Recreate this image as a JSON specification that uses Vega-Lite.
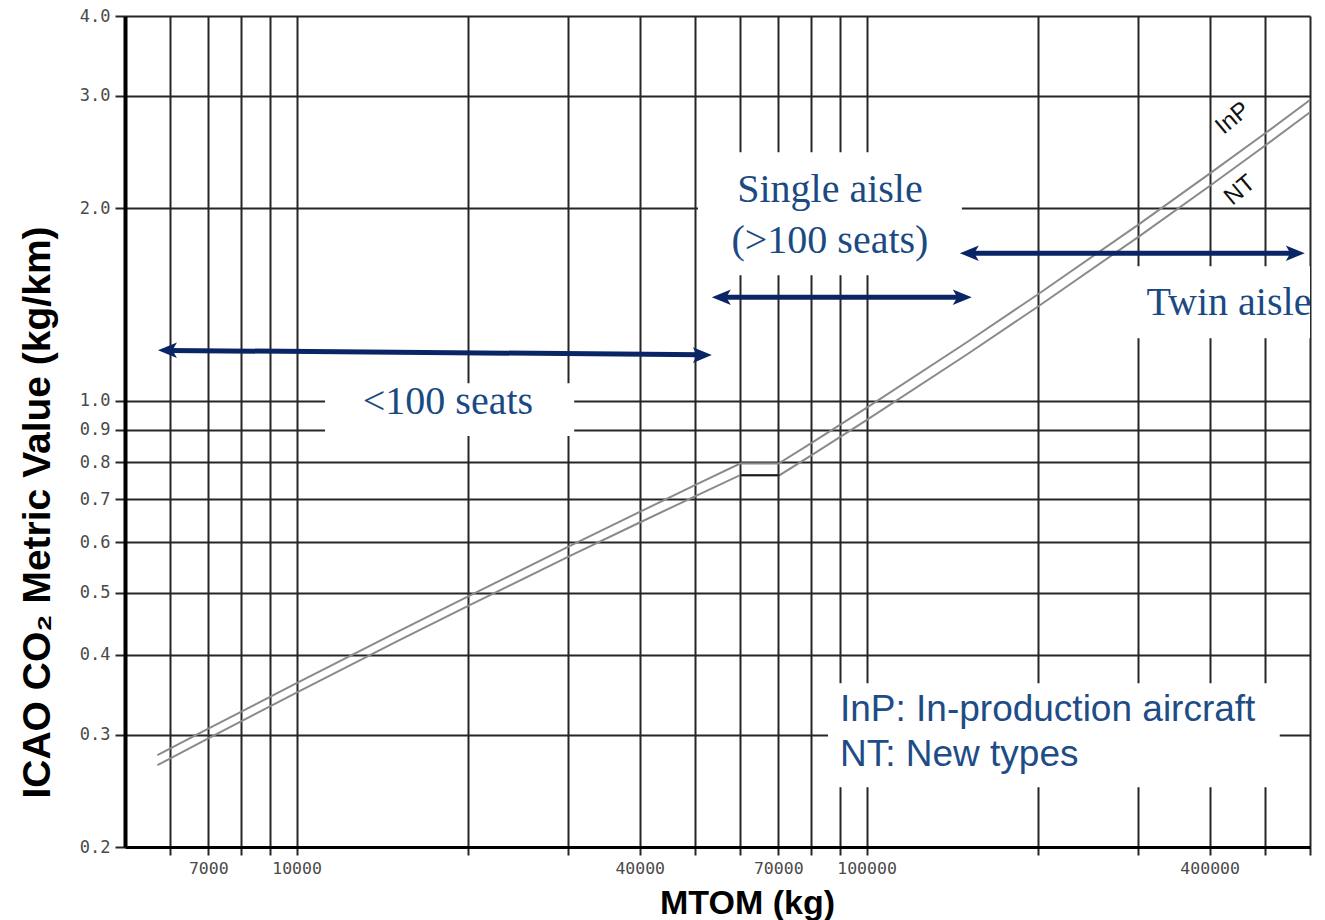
{
  "$schema": "https://vega.github.io/schema/vega-lite/v6.json",
  "width": 1185,
  "height": 831,
  "autosize": {"type": "none"},
  "padding": {"left": 125, "top": 16, "right": 15, "bottom": 73},
  "background": "white",
  "config": {"view": {"stroke": null}},
  "datasets": {
    "boxes": [
      {"x": 11217, "x2": 30700, "y": 1.064, "y2": 0.880},
      {"x": 50610, "x2": 147000, "y": 2.448, "y2": 1.571},
      {"x": 289800, "x2": 600000, "y": 1.623, "y2": 1.252},
      {"x": 85600, "x2": 531000, "y": 0.361, "y2": 0.248}
    ],
    "lines": [
      {"series": "InP", "x": 5700, "y": 0.2786},
      {"series": "InP", "x": 7000, "y": 0.3065},
      {"series": "InP", "x": 10000, "y": 0.3610},
      {"series": "InP", "x": 15000, "y": 0.4339},
      {"series": "InP", "x": 20000, "y": 0.4937},
      {"series": "InP", "x": 30000, "y": 0.5904},
      {"series": "InP", "x": 40000, "y": 0.6693},
      {"series": "InP", "x": 50000, "y": 0.7371},
      {"series": "InP", "x": 60000, "y": 0.7970},
      {"series": "InP", "x": 70107, "y": 0.7970},
      {"series": "InP", "x": 80000, "y": 0.8580},
      {"series": "InP", "x": 100000, "y": 0.9738},
      {"series": "InP", "x": 150000, "y": 1.2339},
      {"series": "InP", "x": 200000, "y": 1.4670},
      {"series": "InP", "x": 300000, "y": 1.8860},
      {"series": "InP", "x": 400000, "y": 2.2656},
      {"series": "InP", "x": 500000, "y": 2.6194},
      {"series": "InP", "x": 600000, "y": 2.9548},
      {"series": "NT", "x": 5700, "y": 0.2686},
      {"series": "NT", "x": 7000, "y": 0.2959},
      {"series": "NT", "x": 10000, "y": 0.3489},
      {"series": "NT", "x": 15000, "y": 0.4196},
      {"series": "NT", "x": 20000, "y": 0.4771},
      {"series": "NT", "x": 30000, "y": 0.5695},
      {"series": "NT", "x": 40000, "y": 0.6443},
      {"series": "NT", "x": 50000, "y": 0.7081},
      {"series": "NT", "x": 60000, "y": 0.7642},
      {"series": "NT", "x": 70395, "y": 0.7642},
      {"series": "NT", "x": 80000, "y": 0.8209},
      {"series": "NT", "x": 100000, "y": 0.9317},
      {"series": "NT", "x": 150000, "y": 1.1805},
      {"series": "NT", "x": 200000, "y": 1.4036},
      {"series": "NT", "x": 300000, "y": 1.8044},
      {"series": "NT", "x": 400000, "y": 2.1676},
      {"series": "NT", "x": 500000, "y": 2.5061},
      {"series": "NT", "x": 600000, "y": 2.8270},
      {"series": "NTflat", "x": 60000, "y": 0.7642},
      {"series": "NTflat", "x": 70395, "y": 0.7642}
    ],
    "shafts": [
      {"x": 5950, "x2": 51430, "y": 1.198, "y2": 1.180},
      {"x": 55760, "x2": 147000, "y": 1.451, "y2": 1.451},
      {"x": 151900, "x2": 564400, "y": 1.701, "y2": 1.701}
    ],
    "heads": [
      {"x": 5712, "y": 1.199, "dir": "L"},
      {"x": 53530, "y": 1.178, "dir": "R"},
      {"x": 53530, "y": 1.451, "dir": "L"},
      {"x": 153000, "y": 1.451, "dir": "R"},
      {"x": 145800, "y": 1.701, "dir": "L"},
      {"x": 587500, "y": 1.701, "dir": "R"}
    ],
    "serifText": [
      {"x": 18435, "y": 0.994, "label": "<100 seats"},
      {"x": 86270, "y": 2.134, "label": "Single aisle"},
      {"x": 86270, "y": 1.776, "label": "(>100 seats)"},
      {"x": 432400, "y": 1.420, "label": "Twin aisle"}
    ],
    "legendText": [
      {"x": 89830, "y": 0.3277, "label": "InP: In-production aircraft"},
      {"x": 89830, "y": 0.2787, "label": "NT: New types"}
    ],
    "lineLabels": [
      {"x": 439400, "y": 2.766, "label": "InP"},
      {"x": 452000, "y": 2.134, "label": "NT"}
    ]
  },
  "encoding": {
    "x": {
      "field": "x",
      "type": "quantitative",
      "scale": {"type": "log", "domain": [5000, 600000], "nice": false, "zero": false},
      "axis": {
        "values": [6000, 7000, 8000, 9000, 10000, 20000, 30000, 40000, 50000, 60000, 70000, 80000, 90000, 100000, 200000, 300000, 400000, 500000, 600000],
        "labelExpr": "indexof([7000,10000,40000,70000,100000,400000], datum.value) >= 0 ? format(datum.value, 'd') : ''",
        "grid": true,
        "gridColor": "#262626",
        "gridWidth": 2,
        "domainColor": "#000000",
        "domainWidth": 3,
        "tickColor": "#262626",
        "tickWidth": 2,
        "tickSize": 8,
        "labelFont": "DejaVu Sans Mono",
        "labelFontSize": 16.5,
        "labelColor": "#4a4a4a",
        "labelPadding": 5,
        "labelFlush": false,
        "labelOverlap": false,
        "title": "MTOM (kg)",
        "titleFont": "Liberation Sans",
        "titleFontWeight": "bold",
        "titleFontSize": 34,
        "titleColor": "#000000",
        "titleX": 622,
        "titleY": 56,
        "titleAlign": "center",
        "titleBaseline": "middle"
      }
    },
    "y": {
      "field": "y",
      "type": "quantitative",
      "scale": {"type": "log", "domain": [0.2, 4.0], "nice": false, "zero": false},
      "axis": {
        "values": [0.2, 0.3, 0.4, 0.5, 0.6, 0.7, 0.8, 0.9, 1.0, 2.0, 3.0, 4.0],
        "format": ".1f",
        "grid": true,
        "gridColor": "#262626",
        "gridWidth": 2,
        "domainColor": "#000000",
        "domainWidth": 4,
        "tickColor": "#262626",
        "tickWidth": 2,
        "tickSize": 10,
        "labelFont": "DejaVu Sans Mono",
        "labelFontSize": 17,
        "labelColor": "#4a4a4a",
        "labelPadding": 5,
        "labelFlush": false,
        "labelOverlap": false,
        "title": "ICAO CO₂ Metric Value (kg/km)",
        "titleFont": "Liberation Sans",
        "titleFontWeight": "bold",
        "titleFontSize": 39,
        "titleColor": "#000000",
        "titleAngle": -90,
        "titleX": -88,
        "titleY": 496,
        "titleAlign": "center",
        "titleBaseline": "middle"
      }
    }
  },
  "layer": [
    {
      "data": {"name": "boxes"},
      "mark": {"type": "rect", "fill": "white", "stroke": null},
      "encoding": {"x2": {"field": "x2"}, "y2": {"field": "y2"}}
    },
    {
      "data": {"name": "lines"},
      "mark": {"type": "line", "strokeWidth": 2},
      "encoding": {
        "detail": {"field": "series"},
        "color": {
          "field": "series",
          "type": "nominal",
          "scale": {"domain": ["InP", "NT", "NTflat"], "range": ["#8a8a8a", "#8a8a8a", "#1a1a1a"]},
          "legend": null
        }
      }
    },
    {
      "data": {"name": "shafts"},
      "mark": {"type": "rule", "strokeWidth": 5, "color": "#0a2565"},
      "encoding": {"x2": {"field": "x2"}, "y2": {"field": "y2"}}
    },
    {
      "data": {"name": "heads"},
      "mark": {"type": "point", "filled": true, "opacity": 1, "size": 400, "color": "#0a2565", "strokeWidth": 0},
      "encoding": {
        "shape": {
          "field": "dir",
          "type": "nominal",
          "scale": {"domain": ["L", "R"], "range": ["M0,0 L1.9,-0.78 L1.45,0 L1.9,0.78 Z", "M0,0 L-1.9,-0.78 L-1.45,0 L-1.9,0.78 Z"]},
          "legend": null
        }
      }
    },
    {
      "data": {"name": "serifText"},
      "mark": {"type": "text", "font": "Liberation Serif", "fontSize": 40, "color": "#1b4a82", "align": "center", "baseline": "middle"},
      "encoding": {"text": {"field": "label"}}
    },
    {
      "data": {"name": "legendText"},
      "mark": {"type": "text", "font": "Liberation Sans", "fontSize": 37, "color": "#1d4c86", "align": "left", "baseline": "middle"},
      "encoding": {"text": {"field": "label"}}
    },
    {
      "data": {"name": "lineLabels"},
      "mark": {"type": "text", "font": "Liberation Sans", "fontSize": 24, "color": "#111111", "align": "center", "baseline": "middle", "angle": -40},
      "encoding": {"text": {"field": "label"}}
    }
  ]
}
